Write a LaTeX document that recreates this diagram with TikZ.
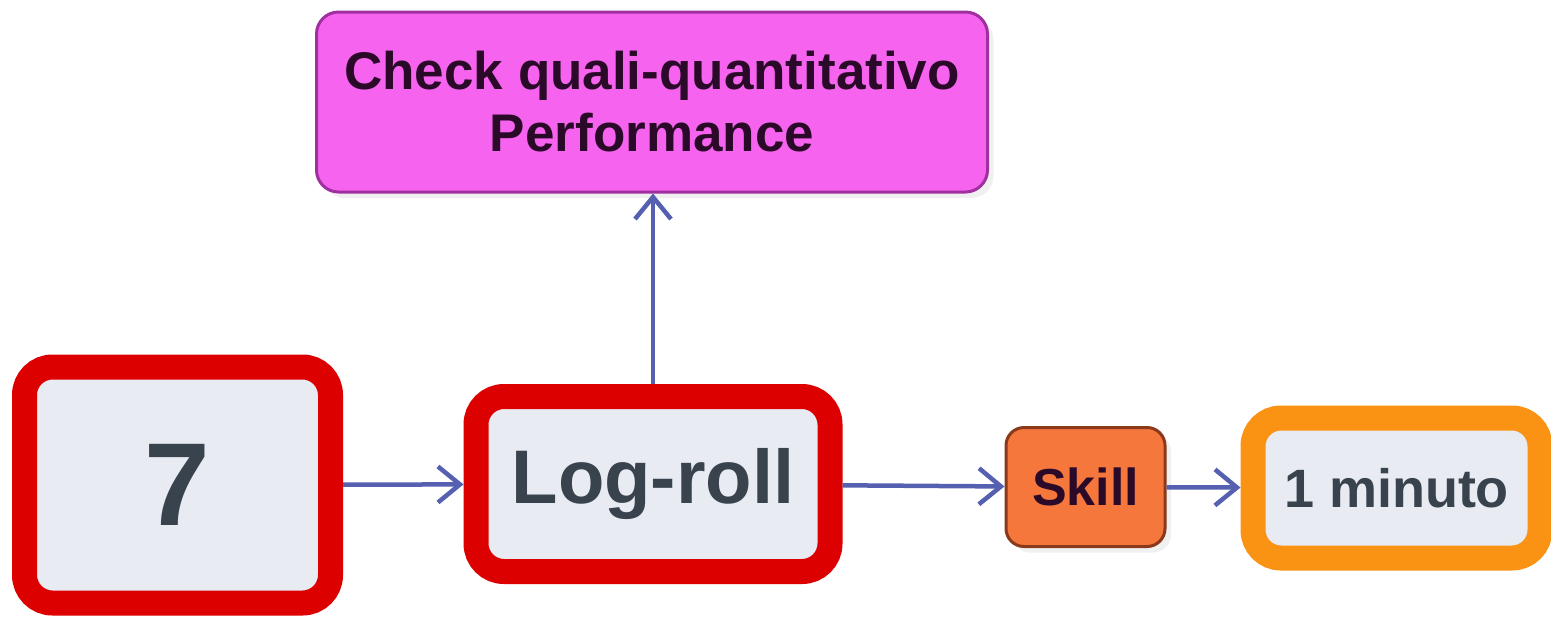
\documentclass[tikz,border=0pt]{standalone}
\usepackage{fontspec}
\setmainfont{Liberation Sans}
\usetikzlibrary{arrows.meta}
\usetikzlibrary{shadows}

\definecolor{boxred}{HTML}{DD0000}
\definecolor{boxfill}{HTML}{E9EBF3}
\definecolor{boxtext}{HTML}{39434D}
\definecolor{checkfill}{HTML}{F664EF}
\definecolor{checkline}{HTML}{A02FA0}
\definecolor{darktext}{HTML}{2A0A28}
\definecolor{skillfill}{HTML}{F5773C}
\definecolor{skillline}{HTML}{8A3A1A}
\definecolor{boxorange}{HTML}{FA9214}
\definecolor{arrowblue}{HTML}{5560B0}

\begin{document}
\begin{tikzpicture}[x=0.5pt, y=-0.5pt,
    softshadow/.style={drop shadow={opacity=0.12, shadow xshift=3pt, shadow yshift=-3pt}},
    redbox/.style={draw=boxred, line width=12.5pt, fill=boxfill, rounded corners=14pt,
        text=boxtext, font=\bfseries, inner sep=0pt, softshadow},
    orangebox/.style={draw=boxorange, line width=12.5pt, fill=boxfill, rounded corners=14pt,
        text=boxtext, font=\bfseries, inner sep=0pt, softshadow},
    flow/.style={draw=arrowblue, line width=2.25pt, -{Straight Barb[length=11pt, width=18pt, line width=2.25pt]}}]
\useasboundingbox (0,0) rectangle (1551,618);

% main row
\node[redbox, minimum width=153pt, minimum height=118pt, font=\bfseries\fontsize{59}{60}\selectfont]
    (seven) at (177.5,485) {7};
\node[redbox, minimum width=177pt, minimum height=87.5pt, font=\bfseries\fontsize{38}{40}\selectfont]
    (logroll) at (653,484) {Log-roll};
\node[draw=skillline, line width=1.5pt, fill=skillfill, rounded corners=9pt, inner sep=0pt,
    minimum width=79.5pt, minimum height=59.5pt, text=darktext, softshadow,
    font=\bfseries\fontsize{26}{28}\selectfont]
    (skill) at (1085.5,487) {Skill};
\node[orangebox, minimum width=143.5pt, minimum height=70pt, font=\bfseries\fontsize{27}{28}\selectfont]
    (minuto) at (1396.5,488) {1 minuto};

% top box
\node[draw=checkline, line width=1.5pt, fill=checkfill, rounded corners=11pt, inner sep=0pt,
    minimum width=335.5pt, minimum height=90pt, text=darktext, align=center, softshadow,
    font=\bfseries\fontsize{26.5}{31}\selectfont]
    (check) at (652,102) {Check quali-quantitativo\\Performance};

% connectors
\draw[flow] (seven) -- (logroll);
\draw[flow] (logroll.north) -- (logroll.north |- check.south);
\draw[flow] (logroll) -- (skill);
\draw[flow] (skill) -- (minuto);
\end{tikzpicture}
\end{document}
